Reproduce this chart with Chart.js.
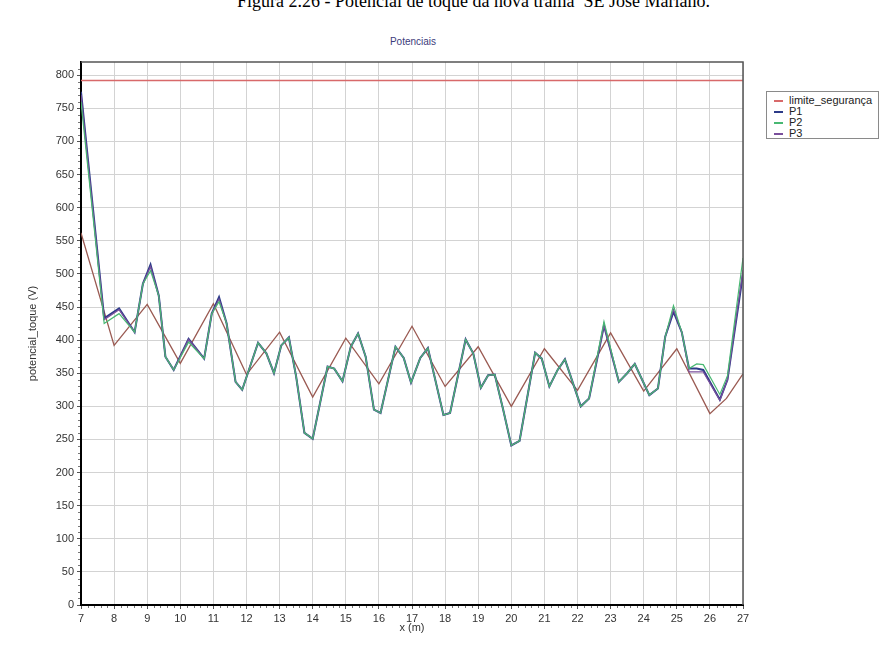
<!DOCTYPE html>
<html>
<head>
<meta charset="utf-8">
<script src="https://cdn.jsdelivr.net/npm/chart.js@4.4.0/dist/chart.umd.min.js"></script>
<style>
body { margin: 0; background: #fff; width: 896px; height: 653px; overflow: hidden; position: relative; font-family: "Liberation Sans", Arial, sans-serif; }
#legenda-fig { position: absolute; left: 237px; top: -9px; font-family: "Liberation Serif", "Times New Roman", serif; font-size: 18px; color: #000; white-space: nowrap; }
#titulo { position: absolute; left: 313px; width: 200px; top: 36px; text-align: center; font-size: 10px; color: #3b3b7b; }
#legenda { position: absolute; left: 766px; top: 91px; width: 113px; height: 48px; border: 1px solid #8a8a8a; background: #fff; box-sizing: border-box; padding-top: 3px; }
.item { height: 11px; font-size: 11px; line-height: 11px; color: #222; position: relative; }
.item span.cor { position: absolute; left: 7px; top: 5px; width: 9px; height: 2px; }
.item span.txt { position: absolute; left: 22px; top: 0; }
canvas { position: absolute; left: 0; top: 0; }
</style>
</head>
<body>
<div id="legenda-fig">Figura 2.26 - Potencial de toque da nova trama &nbsp;SE José Mariano.</div>
<div id="titulo">Potenciais</div>
<canvas id="grafico" width="896" height="653"></canvas>
<div id="legenda"></div>
<script>
// limite de segurança (reta horizontal)
const limiteX = [7, 27];
const limiteY = [792, 792];

// posições (m) dos pontos dos perfis P1, P2, P3
const posX = [7.0, 7.7, 8.15, 8.62, 8.87, 9.1, 9.35, 9.55, 9.8, 10.25, 10.72, 10.95, 11.17, 11.4, 11.67, 11.87,
	12.35, 12.6, 12.83, 13.05, 13.28, 13.5, 13.75, 14.0, 14.45, 14.65, 14.9, 15.15, 15.37, 15.6, 15.85, 16.05,
	16.5, 16.75, 16.97, 17.25, 17.48, 17.95, 18.15, 18.62, 18.85, 19.08, 19.3, 19.5, 19.75, 20.0, 20.25,
	20.72, 20.92, 21.15, 21.4, 21.62, 22.1, 22.35, 22.8, 23.25, 23.5, 23.73, 24.17, 24.43, 24.65, 24.9,
	25.15, 25.37, 25.6, 25.8, 26.3, 26.53, 27.0];

const p1 = [775, 433, 448, 412, 485, 514, 467, 375, 355, 402, 372, 440, 465, 425, 337, 325,
	396, 380, 350, 392, 404, 345, 260, 251, 360, 357, 338, 390, 410, 375, 295, 290,
	390, 373, 336, 373, 388, 287, 290, 401, 380, 328, 347, 348, 296, 241, 248,
	381, 372, 330, 355, 371, 300, 312, 422, 337, 350, 364, 317, 327, 405, 443,
	412, 357, 357, 355, 310, 340, 500];

const p2 = [760, 425, 440, 412, 485, 505, 467, 375, 355, 397, 372, 440, 458, 425, 337, 325,
	396, 380, 350, 392, 404, 345, 260, 251, 360, 357, 338, 390, 410, 375, 295, 290,
	390, 373, 336, 373, 388, 287, 290, 401, 380, 328, 347, 348, 296, 241, 248,
	381, 372, 330, 355, 371, 300, 312, 428, 337, 350, 364, 317, 327, 405, 452,
	412, 357, 364, 363, 318, 346, 524];

const p3 = [770, 431, 446, 412, 485, 511, 467, 375, 355, 401, 372, 440, 462, 425, 337, 325,
	396, 380, 350, 392, 404, 345, 260, 251, 360, 357, 338, 390, 410, 375, 295, 290,
	390, 373, 336, 373, 388, 287, 290, 401, 380, 328, 347, 348, 296, 241, 248,
	381, 372, 330, 355, 371, 300, 312, 422, 337, 350, 364, 317, 327, 405, 446,
	412, 352, 352, 352, 309, 340, 506];

// curva marrom (sem entrada na legenda)
const curvaX = [7, 8, 9, 10, 11, 12, 13, 14, 15, 16, 17, 18, 19, 20, 21, 22, 23, 24, 25, 26, 26.5, 27];
const curvaY = [562, 392, 454, 365, 455, 348, 412, 314, 403, 334, 421, 330, 390, 300, 387, 324, 411, 323, 387, 289, 312, 349];

// monta pares {x, y}
function pares(xs, ys) {
	return xs.map((x, i) => ({ x: x, y: ys[i] }));
}

// ordem: menor número fica por cima
const series = [
	{ label: 'limite_segurança', data: pares(limiteX, limiteY), borderColor: '#d8696a', largura: 1.4, ordem: 0, legenda: true },
	{ label: 'P1', data: pares(posX, p1), borderColor: '#2c3b88', largura: 2, ordem: 3, legenda: true },
	{ label: 'P2', data: pares(posX, p2), borderColor: '#48b872', largura: 1.2, ordem: 1, legenda: true },
	{ label: 'P3', data: pares(posX, p3), borderColor: '#7a4f9c', largura: 1.2, ordem: 2, legenda: true },
	{ label: 'curva', data: pares(curvaX, curvaY), borderColor: '#9a5a52', largura: 1.3, ordem: 4, legenda: false }
];

// moldura superior/direita e marcas menores
const moldura = {
	id: 'moldura',
	afterDraw(chart) {
		const { ctx, chartArea: a, scales } = chart;
		ctx.save();
		ctx.strokeStyle = '#555';
		ctx.lineWidth = 1.5;
		ctx.beginPath();
		ctx.moveTo(a.left, a.top);
		ctx.lineTo(a.right, a.top);
		ctx.lineTo(a.right, a.bottom);
		ctx.stroke();
		ctx.strokeStyle = '#777';
		ctx.lineWidth = 1;
		ctx.beginPath();
		for (let v = 10; v < 820; v += 10) {
			if (v % 50 === 0) continue;
			const y = Math.round(scales.y.getPixelForValue(v)) + 0.5;
			ctx.moveTo(a.left - 3, y);
			ctx.lineTo(a.left - 1, y);
		}
		for (let v = 7.2; v < 27; v += 0.2) {
			if (Math.abs(v - Math.round(v)) < 0.01) continue;
			const x = Math.round(scales.x.getPixelForValue(v)) + 0.5;
			ctx.moveTo(x, a.bottom + 1);
			ctx.lineTo(x, a.bottom + 3);
		}
		ctx.stroke();
		ctx.restore();
	}
};

const grafico = new Chart(document.getElementById('grafico'), {
	type: 'line',
	data: {
		datasets: series.map(s => ({
			label: s.label,
			data: s.data,
			borderColor: s.borderColor,
			backgroundColor: s.borderColor,
			borderWidth: s.largura,
			order: s.ordem,
			pointRadius: 0,
			tension: 0,
			fill: false
		}))
	},
	options: {
		responsive: false,
		animation: false,
		layout: { padding: { top: 62, right: 153, left: 0, bottom: 0 } },
		plugins: {
			legend: { display: false },
			title: { display: false },
			tooltip: { enabled: false }
		},
		scales: {
			x: {
				type: 'linear',
				min: 7,
				max: 27,
				ticks: { stepSize: 1, color: '#333', font: { size: 11 }, padding: 3, maxRotation: 0 },
				grid: { color: '#d3d3d3', tickColor: '#555', tickLength: 4 },
				border: { color: '#000', width: 2 },
				title: { display: true, text: 'x (m)', color: '#333', font: { size: 11 }, padding: { bottom: 18 } },
				afterFit(scale) { scale.height = 48; }
			},
			y: {
				min: 0,
				max: 820,
				ticks: { stepSize: 50, color: '#333', font: { size: 11 }, padding: 3 },
				grid: { color: '#d3d3d3', tickColor: '#555', tickLength: 4 },
				border: { color: '#000', width: 2 },
				title: { display: true, text: 'potencial_toque (V)', color: '#333', font: { size: 11 }, padding: { top: 26 } },
				afterBuildTicks(scale) { scale.ticks = scale.ticks.filter(t => t.value % 50 === 0); },
				afterFit(scale) { scale.width = 81; }
			}
		}
	},
	plugins: [moldura]
});

// legenda em HTML, na ordem das séries
const legenda = document.getElementById('legenda');
series.filter(s => s.legenda).forEach(s => {
	const item = document.createElement('div');
	item.className = 'item';
	item.innerHTML = '<span class="cor" style="background:' + s.borderColor + '"></span><span class="txt">' + s.label + '</span>';
	legenda.appendChild(item);
});
</script>
</body>
</html>
